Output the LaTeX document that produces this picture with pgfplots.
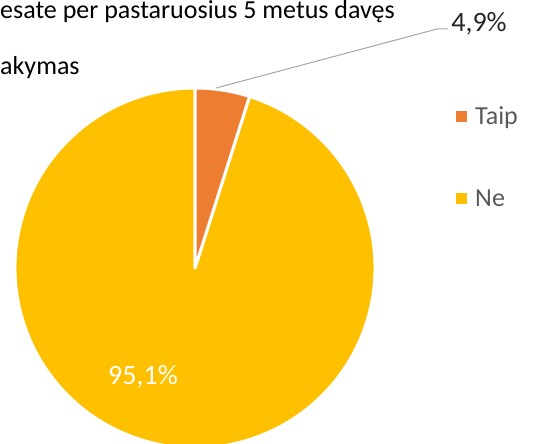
\documentclass[border=0pt]{standalone}
\usepackage{pgfplots}
\pgfplotsset{compat=1.18}
\usepackage{pgfplotstable}
\usepackage{fontspec}
\setmainfont{Carlito}
\definecolor{taip}{HTML}{ED7D31}
\definecolor{ne}{HTML}{FFC000}
\definecolor{leg}{HTML}{595959}
\definecolor{lead}{HTML}{A6A6A6}
\pgfplotstableread{
label value
Taip 4.9
Ne 95.1
}\piedata
\begin{document}
\begin{tikzpicture}
\pgfplotstablegetelem{0}{value}\of\piedata
\pgfmathsetmacro{\va}{\pgfplotsretval}
\pgfplotstablegetelem{1}{value}\of\piedata
\pgfmathsetmacro{\vb}{\pgfplotsretval}
\pgfmathsetmacro{\aA}{90-3.6*\va}
\pgfmathsetmacro{\aB}{\aA-3.6*\vb}
\useasboundingbox (0,0) rectangle (543pt,444pt);
\begin{axis}[
  at={(0,0)}, anchor=origin,
  scale only axis, width=543pt, height=444pt,
  xmin=0, xmax=543, ymin=0, ymax=444,
  hide axis, clip=true,
]
% slices
\filldraw[fill=ne, draw=white, line width=3pt, line join=round]
  (axis cs:195,176) -- ([shift={(\aA:180pt)}]axis cs:195,176)
  arc[start angle=\aA, end angle=\aB, radius=180pt] -- cycle;
\filldraw[fill=taip, draw=white, line width=3pt, line join=round]
  (axis cs:195,176) -- ([shift={(90:180pt)}]axis cs:195,176)
  arc[start angle=90, end angle=\aA, radius=180pt] -- cycle;
% leader line
\draw[lead, line width=1pt] (axis cs:216,356) -- (axis cs:437,415) -- (axis cs:448,415);
% data labels
\node[anchor=base, inner sep=0pt, font=\fontsize{28}{30}\selectfont, text=black!85] at (axis cs:479,412) {4,9\%};
\node[anchor=base, inner sep=0pt, font=\fontsize{28}{30}\selectfont, text=white] at (axis cs:143,59) {95,1\%};
% title (cut off)
\node[anchor=base west, inner sep=0pt, font=\fontsize{26}{30}\selectfont, text=black] at (axis cs:0,425) {esate per pastaruosius 5 metus davęs};
\node[anchor=base west, inner sep=0pt, font=\fontsize{26}{30}\selectfont, text=black] at (axis cs:0,369) {akymas};
% legend
\fill[taip] (axis cs:456,321.5) rectangle (axis cs:467,332.5);
\node[anchor=base west, inner sep=0pt, font=\fontsize{26}{30}\selectfont, text=leg] at (axis cs:475,319) {Taip};
\fill[ne] (axis cs:456,240) rectangle (axis cs:467,251);
\node[anchor=base west, inner sep=0pt, font=\fontsize{26}{30}\selectfont, text=leg] at (axis cs:475,237) {Ne};
\end{axis}
\end{tikzpicture}
\end{document}
